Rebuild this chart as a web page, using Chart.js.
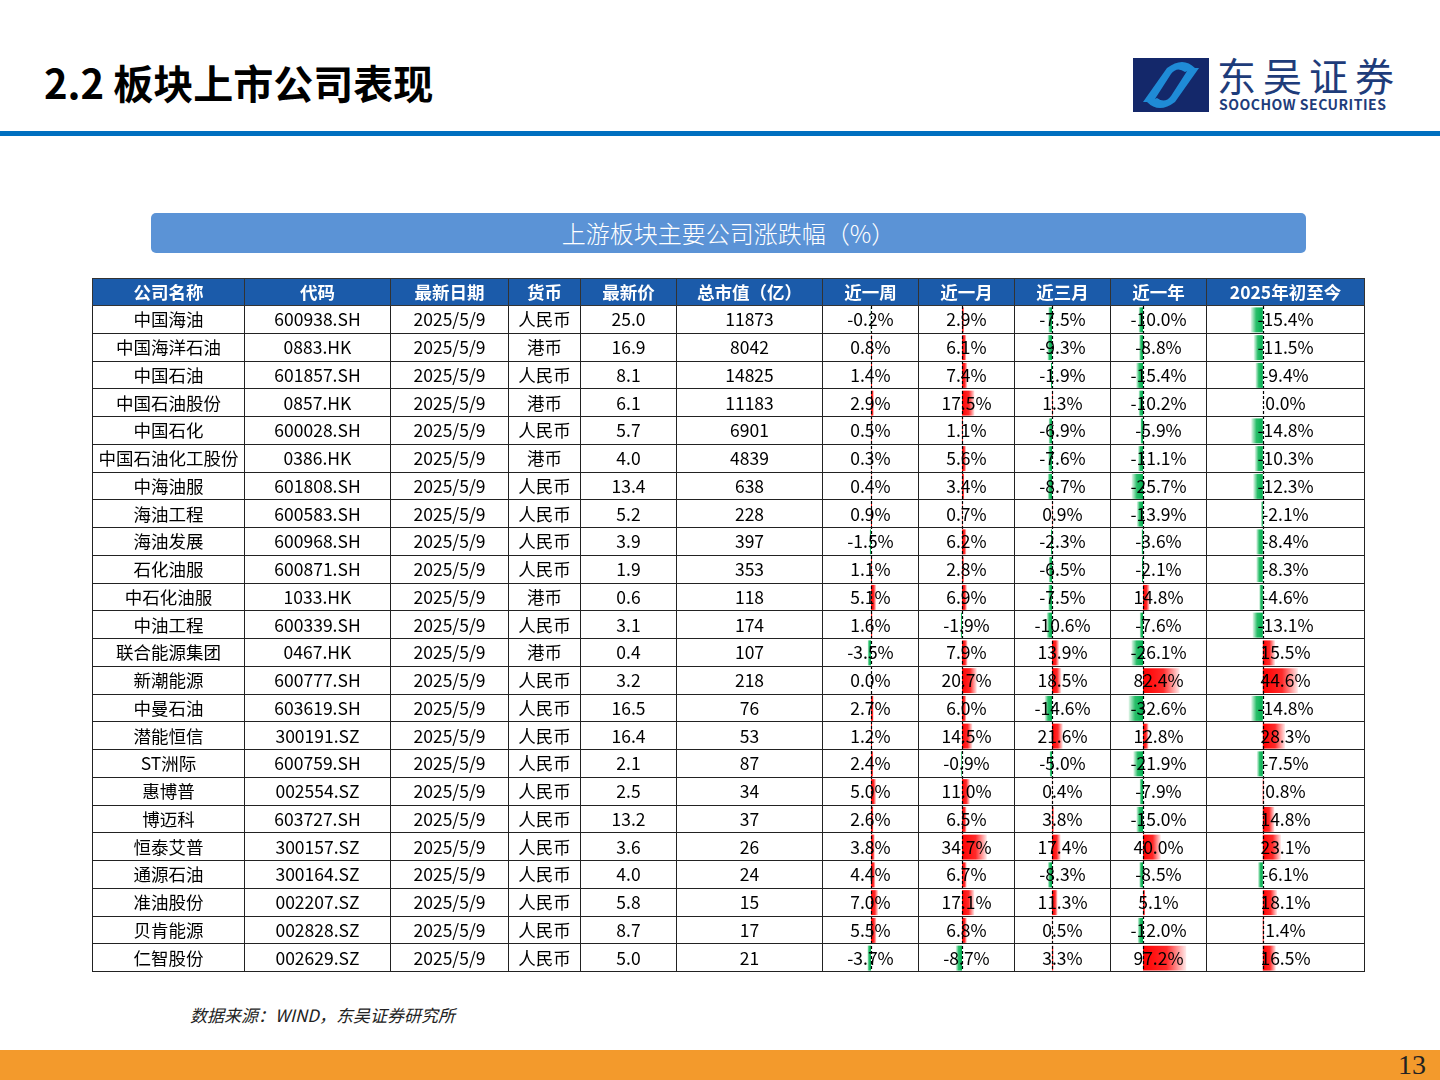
<!DOCTYPE html>
<html><head><meta charset="utf-8">
<script src="https://cdn.jsdelivr.net/npm/chart.js@4"></script>
<style>
body{margin:0;width:1440px;height:1080px;position:relative;background:#fff;font-family:"Noto Sans CJK SC","Noto Sans",sans-serif;overflow:hidden}
#h1{position:absolute;left:44px;top:62px;font-size:40px;line-height:1;font-weight:bold;color:#000}
#rule{position:absolute;left:0;top:131px;width:1440px;height:5px;background:#0070C0}
#banner{position:absolute;left:151px;top:213px;width:1155px;height:40px;background:#5B93D6;border-radius:5px;color:#fff;font-size:24px;text-align:center;line-height:40px;font-weight:300}
#tbl{position:absolute;left:92px;top:278px;width:1272px;border-collapse:collapse;table-layout:fixed;z-index:2}
#tbl td,#tbl th{border:1.5px solid #222;padding:0;text-align:center;font-size:17.5px;line-height:26px;white-space:nowrap;background:transparent;overflow:visible}
#tbl td{height:26.75px}
#tbl th{background:#1B5BAA;color:#fff;font-weight:bold;height:24.5px;border-color:#333}
.bar{position:absolute;z-index:1}
#src{position:absolute;left:190px;top:1002px;font-size:17px;font-style:italic;color:#222}
#foot{position:absolute;left:0;top:1050px;width:1440px;height:30px;background:#F39A2C}
#pg{position:absolute;right:14px;top:1049px;font-family:"Liberation Serif",serif;font-size:28px;color:#222}
#logo{position:absolute;left:1133px;top:58px}
#lt{position:absolute;left:1217px;top:55px;font-size:39px;line-height:1;color:#1E3C7A;letter-spacing:7px}
#le{position:absolute;left:1219px;top:97px;font-size:14px;line-height:1;font-weight:bold;color:#1E3C7A;letter-spacing:0.5px}
</style></head><body>
<div id="h1">2.2 板块上市公司表现</div>
<svg id="logo" width="76" height="54"><rect x="0" y="0" width="76" height="54" fill="#14286A"/><path d="M10 44 L34 10 Q50 -2 62 10 L52 14 Q44 8 38 16 L20 44 Z" fill="#1F8BD6"/><path d="M66 10 L42 44 Q26 56 14 44 L24 40 Q32 46 38 38 L56 10 Z" fill="#1F8BD6"/></svg>
<div id="lt">东吴证券</div>
<div id="le">SOOCHOW SECURITIES</div>
<div id="rule"></div>
<div id="banner">上游板块主要公司涨跌幅（%）</div>
<table id="tbl"><colgroup id="cg"></colgroup><thead><tr id="hd"></tr></thead><tbody id="bd"></tbody></table>
<div id="src">数据来源：WIND，东吴证券研究所</div>
<div id="foot"></div><div id="pg">13</div>
<script>
const headers = ['公司名称','代码','最新日期','货币','最新价','总市值（亿）','近一周','近一月','近三月','近一年','2025年初至今'];
const colWidths = [152,146,118,72,96,146,96,96,96,96,158];
const names = ['中国海油','中国海洋石油','中国石油','中国石油股份','中国石化','中国石油化工股份','中海油服','海油工程','海油发展','石化油服','中石化油服','中油工程','联合能源集团','新潮能源','中曼石油','潜能恒信','ST洲际','惠博普','博迈科','恒泰艾普','通源石油','准油股份','贝肯能源','仁智股份'];
const codes = ['600938.SH','0883.HK','601857.SH','0857.HK','600028.SH','0386.HK','601808.SH','600583.SH','600968.SH','600871.SH','1033.HK','600339.SH','0467.HK','600777.SH','603619.SH','300191.SZ','600759.SH','002554.SZ','603727.SH','300157.SZ','300164.SZ','002207.SZ','002828.SZ','002629.SZ'];
const currency = ['人民币','港币','人民币','港币','人民币','港币','人民币','人民币','人民币','人民币','港币','人民币','港币','人民币','人民币','人民币','人民币','人民币','人民币','人民币','人民币','人民币','人民币','人民币'];
const price = ['25.0','16.9','8.1','6.1','5.7','4.0','13.4','5.2','3.9','1.9','0.6','3.1','0.4','3.2','16.5','16.4','2.1','2.5','13.2','3.6','4.0','5.8','8.7','5.0'];
const mktCap = [11873,8042,14825,11183,6901,4839,638,228,397,353,118,174,107,218,76,53,87,34,37,26,24,15,17,21];
const week = [-0.2,0.8,1.4,2.9,0.5,0.3,0.4,0.9,-1.5,1.1,5.1,1.6,-3.5,0.0,2.7,1.2,2.4,5.0,2.6,3.8,4.4,7.0,5.5,-3.7];
const month = [2.9,6.1,7.4,17.5,1.1,5.6,3.4,0.7,6.2,2.8,6.9,-1.9,7.9,20.7,6.0,14.5,-0.9,11.0,6.5,34.7,6.7,17.1,6.8,-8.7];
const quarter = [-7.5,-9.3,-1.9,1.3,-6.9,-7.6,-8.7,0.9,-2.3,-6.5,-7.5,-10.6,13.9,18.5,-14.6,21.6,-5.0,0.4,3.8,17.4,-8.3,11.3,0.5,3.3];
const year = [-10.0,-8.8,-15.4,-10.2,-5.9,-11.1,-25.7,-13.9,-3.6,-2.1,14.8,-7.6,-26.1,82.4,-32.6,12.8,-21.9,-7.9,-15.0,40.0,-8.5,5.1,-12.0,97.2];
const ytd = [-15.4,-11.5,-9.4,0.0,-14.8,-10.3,-12.3,-2.1,-8.4,-8.3,-4.6,-13.1,15.5,44.6,-14.8,28.3,-7.5,0.8,14.8,23.1,-6.1,18.1,1.4,16.5];
// 每列的坐标轴范围（决定零轴位置与条形长度）
const ranges = [[-48,48],[-60,74],[-74,118],[-72,144],[-71,130]];
const pctCols = [week,month,quarter,year,ytd];

const cg = document.getElementById('cg');
colWidths.forEach(w=>{const c=document.createElement('col');c.style.width=w+'px';cg.appendChild(c);});
const hd = document.getElementById('hd');
headers.forEach(h=>{const th=document.createElement('th');th.textContent=h;hd.appendChild(th);});
const bd = document.getElementById('bd');
const pct = v => v.toFixed(1)+'%';
names.forEach((n,r)=>{
  const tr=document.createElement('tr');
  [n,codes[r],'2025/5/9',currency[r],price[r],mktCap[r],pct(week[r]),pct(month[r]),pct(quarter[r]),pct(year[r]),pct(ytd[r])].forEach(v=>{
    const td=document.createElement('td');td.textContent=v;tr.appendChild(td);});
  bd.appendChild(tr);
});

const zeroLine = {
  id:'zeroLine',
  afterDatasetsDraw(chart){
    const {ctx,chartArea,scales}=chart;
    const x=Math.round(scales.x.getPixelForValue(0))+0.5;
    ctx.save();ctx.strokeStyle='#000';ctx.lineWidth=1.2;ctx.setLineDash([3,2]);
    ctx.beginPath();ctx.moveTo(x,chartArea.top);ctx.lineTo(x,chartArea.bottom);ctx.stroke();ctx.restore();
  }
};

const ths = hd.querySelectorAll('th');
const bodyRect = bd.getBoundingClientRect();
pctCols.forEach((data,ci)=>{
  const r = ths[6+ci].getBoundingClientRect();
  const w = Math.round(r.width), h = Math.round(bodyRect.height);
  const cv=document.createElement('canvas');
  cv.className='bar';cv.width=w;cv.height=h;
  cv.style.left=Math.round(r.left)+'px';cv.style.top=Math.round(bodyRect.top)+'px';
  cv.style.width=w+'px';cv.style.height=h+'px';
  document.body.appendChild(cv);
  new Chart(cv.getContext('2d'),{
    type:'bar',
    data:{labels:names,datasets:[{data:data,barPercentage:0.9,categoryPercentage:1,
      backgroundColor(c){
        const chart=c.chart, sc=chart.scales.x;
        const v=c.raw;
        if(!sc||!chart.chartArea) return v>=0?'#FF0000':'#00B050';
        const x0=sc.getPixelForValue(0), x1=sc.getPixelForValue(v);
        if(Math.abs(x1-x0)<1) return v>=0?'#FF0000':'#00B050';
        const g=chart.ctx.createLinearGradient(x0,0,x1,0);
        if(v>=0){g.addColorStop(0,'#FF0000');g.addColorStop(0.55,'#FF2A2A');g.addColorStop(1,'#FFEAEA');}
        else{g.addColorStop(0,'#00B050');g.addColorStop(0.55,'#2ABE6A');g.addColorStop(1,'#EAF8EF');}
        return g;
      }}]},
    options:{indexAxis:'y',responsive:false,animation:false,devicePixelRatio:1,
      layout:{padding:0},
      plugins:{legend:{display:false},tooltip:{enabled:false}},
      scales:{x:{display:false,min:ranges[ci][0],max:ranges[ci][1]},y:{display:false}}},
    plugins:[zeroLine]
  });
});
</script>
</body></html>
